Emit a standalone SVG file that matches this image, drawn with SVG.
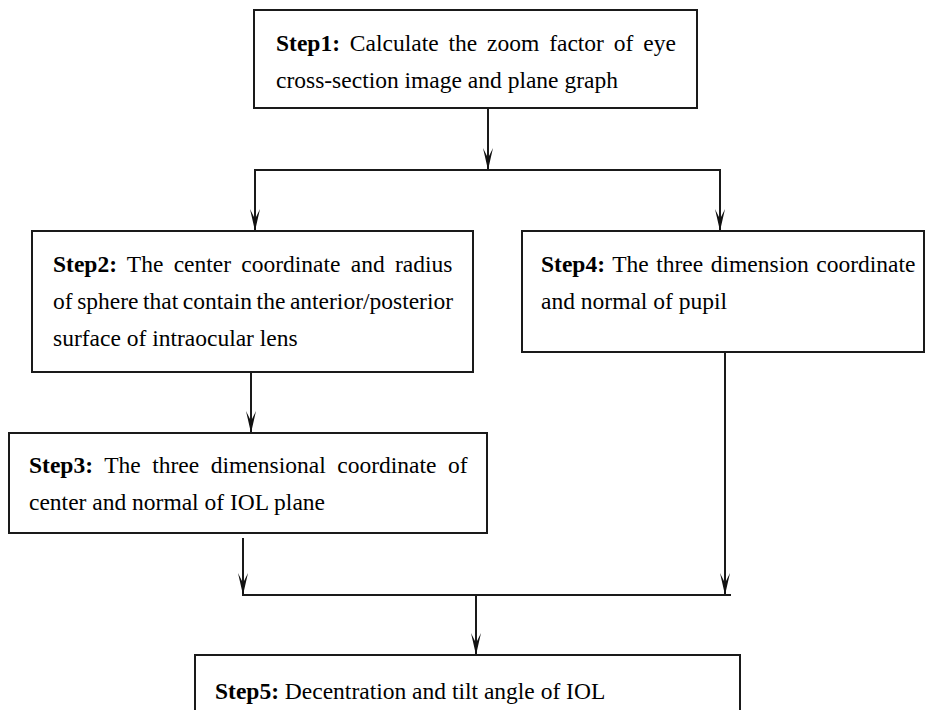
<svg xmlns="http://www.w3.org/2000/svg" width="926" height="710" viewBox="0 0 926 710">
<defs>
<marker id="arr" markerUnits="userSpaceOnUse" viewBox="0 0 22 10" markerWidth="22" markerHeight="10" refX="22" refY="5" orient="auto">
<path d="M0,0 L22,5 L0,10 L10,5 Z" fill="#111"/>
</marker>
</defs>
<style>
.box{fill:#fff;stroke:#1a1a1a;stroke-width:2}
.t{font-family:"Liberation Serif","Times New Roman",serif;font-size:23.5px;fill:#000}
.b{font-weight:bold}
.c{fill:none;stroke:#1a1a1a;stroke-width:2}
</style>
<rect width="926" height="710" fill="#fff"/>
<g id="connectors">
<line class="c" x1="488" y1="108" x2="488" y2="170" marker-end="url(#arr)"/>
<line class="c" x1="254" y1="170" x2="721" y2="170"/>
<line class="c" x1="255" y1="170" x2="255" y2="231" marker-end="url(#arr)"/>
<line class="c" x1="720" y1="170" x2="720" y2="231" marker-end="url(#arr)"/>
<line class="c" x1="251" y1="372" x2="251" y2="433" marker-end="url(#arr)"/>
<line class="c" x1="243" y1="538" x2="243" y2="595" marker-end="url(#arr)"/>
<line class="c" x1="725" y1="352" x2="725" y2="595" marker-end="url(#arr)"/>
<line class="c" x1="242" y1="595" x2="731" y2="595"/>
<line class="c" x1="476" y1="595" x2="476" y2="655" marker-end="url(#arr)"/>
</g>
<g id="step1">
<rect class="box" x="254" y="10" width="443" height="98"/>
<text class="t" x="276" y="51" word-spacing="4"><tspan class="b">Step1:</tspan> Calculate the zoom factor of eye</text>
<text class="t" x="276" y="88">cross-section image and plane graph</text>
</g>
<g id="step2">
<rect class="box" x="32" y="231" width="441" height="141"/>
<text class="t" x="53" y="272" word-spacing="4.4"><tspan class="b">Step2:</tspan> The center coordinate and radius</text>
<text class="t" x="53" y="309" word-spacing="-1.3">of sphere that contain the anterior/posterior</text>
<text class="t" x="53" y="346">surface of intraocular lens</text>
</g>
<g id="step4">
<rect class="box" x="522" y="231" width="402" height="121"/>
<text class="t" x="541" y="272" word-spacing="1.7"><tspan class="b">Step4:</tspan> The three dimension coordinate</text>
<text class="t" x="541" y="309">and normal of pupil</text>
</g>
<g id="step3">
<rect class="box" x="9" y="433" width="478" height="100"/>
<text class="t" x="29" y="473" word-spacing="5.7"><tspan class="b">Step3:</tspan> The three dimensional coordinate of</text>
<text class="t" x="29" y="510">center and normal of IOL plane</text>
</g>
<g id="step5">
<rect class="box" x="195" y="655" width="545" height="70"/>
<text class="t" x="215" y="699"><tspan class="b">Step5:</tspan> Decentration and tilt angle of IOL</text>
</g>
</svg>
